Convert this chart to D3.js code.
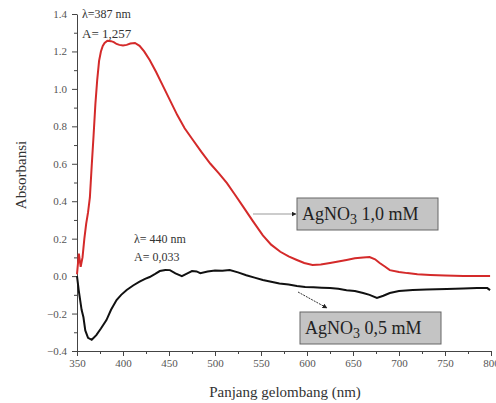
<!DOCTYPE html>
<html>
<head>
<meta charset="utf-8">
<title>Absorbansi AgNO3</title>
<script src="https://d3js.org/d3.v7.min.js"></script>
<style>
body { margin: 0; background: #fff; }
.axis path, .axis line { stroke: #444; }
</style>
</head>
<body>
<svg width="496" height="403"></svg>
<script>
// wavelength (nm) / absorbance
var wl10 = [350, 352, 354, 356, 358, 360, 362, 364, 366, 368, 370, 372, 374, 376, 378, 380, 383, 387, 390, 393, 396, 400, 404, 408, 413, 418, 423, 429, 436, 443, 451, 459, 467, 476, 485, 495, 504, 513, 521, 530, 541, 552, 561, 571, 580, 589, 597, 606, 615, 625, 634, 643, 652, 661, 668, 674, 679, 685, 690, 700, 709, 720, 734, 750, 770, 785, 799];
var abs10 = [0.01, 0.12, 0.05, 0.1, 0.2, 0.28, 0.34, 0.42, 0.59, 0.75, 0.92, 1.05, 1.15, 1.2, 1.23, 1.245, 1.257, 1.255, 1.25, 1.24, 1.235, 1.232, 1.235, 1.242, 1.245, 1.23, 1.2, 1.154, 1.09, 1.02, 0.94, 0.86, 0.79, 0.727, 0.665, 0.6, 0.55, 0.497, 0.44, 0.375, 0.295, 0.218, 0.168, 0.13, 0.105, 0.086, 0.07, 0.06, 0.062, 0.07, 0.078, 0.086, 0.095, 0.1, 0.102, 0.09, 0.07, 0.05, 0.032, 0.022, 0.016, 0.01, 0.006, 0.003, 0.0, 0.0, 0.0];

var wl05 = [350, 352, 355, 357, 359, 362, 366, 371, 376, 382, 387, 393, 398, 404, 411, 418, 424, 429, 435, 440, 446, 451, 457, 464, 470, 475, 480, 484, 492, 500, 508, 516, 525, 534, 543, 552, 561, 570, 580, 589, 598, 607, 616, 625, 634, 643, 652, 661, 668, 676, 683, 690, 700, 715, 730, 752, 770, 785, 796, 799];
var abs05 = [0.0, -0.08, -0.18, -0.22, -0.29, -0.33, -0.34, -0.315, -0.28, -0.235, -0.18, -0.128, -0.1, -0.074, -0.05, -0.03, -0.015, -0.005, 0.012, 0.027, 0.033, 0.032, 0.015, 0.0, 0.015, 0.027, 0.025, 0.016, 0.025, 0.03, 0.028, 0.032, 0.02, 0.005, -0.008, -0.021, -0.03, -0.04, -0.045, -0.053, -0.058, -0.06, -0.062, -0.064, -0.068, -0.075, -0.08, -0.09, -0.1, -0.117, -0.105, -0.09, -0.08, -0.074, -0.072, -0.069, -0.066, -0.064, -0.064, -0.075];

var xTicks = [350, 400, 450, 500, 550, 600, 650, 700, 750, 800];
var yTicks = [-0.4, -0.2, 0.0, 0.2, 0.4, 0.6, 0.8, 1.0, 1.2, 1.4];

var serif = "'Liberation Serif', 'Times New Roman', serif";
var svg = d3.select("svg");

var x = d3.scaleLinear().domain([350, 800]).range([77, 491]);
var y = d3.scaleLinear().domain([-0.4, 1.4]).range([351, 14]);

// minor ticks
svg.append("g")
  .attr("class", "axis")
  .attr("transform", "translate(0,351)")
  .call(d3.axisBottom(x).tickValues(d3.range(375, 800, 50)).tickSize(3).tickFormat(""))
  .select(".domain").remove();
svg.append("g")
  .attr("class", "axis")
  .attr("transform", "translate(77,0)")
  .call(d3.axisLeft(y).tickValues(d3.range(-0.3, 1.4, 0.2)).tickSize(3).tickFormat(""))
  .select(".domain").remove();

svg.append("g")
  .attr("class", "axis")
  .attr("transform", "translate(0,351)")
  .call(d3.axisBottom(x).tickValues(xTicks).tickSize(5).tickSizeOuter(0).tickPadding(3))
  .attr("font-family", serif).attr("font-size", 11)
  .selectAll("text").attr("fill", "#555");

svg.append("g")
  .attr("class", "axis")
  .attr("transform", "translate(77,0)")
  .call(d3.axisLeft(y).tickValues(yTicks).tickSize(5).tickSizeOuter(0).tickPadding(5)
          .tickFormat(d3.format(".1f")))
  .attr("font-family", serif).attr("font-size", 11)
  .selectAll("text").attr("fill", "#555");

var line = d3.line()
  .x(function(d) { return x(d[0]); })
  .y(function(d) { return y(d[1]); });

svg.append("path")
  .datum(d3.zip(wl10, abs10))
  .attr("fill", "none")
  .attr("stroke", "#d42a2a")
  .attr("stroke-width", 2)
  .attr("d", line);

svg.append("path")
  .datum(d3.zip(wl05, abs05))
  .attr("fill", "none")
  .attr("stroke", "#111")
  .attr("stroke-width", 2)
  .attr("d", line);

function label(tx, ty, size, str) {
  return svg.append("text")
    .attr("x", tx).attr("y", ty)
    .attr("font-family", serif)
    .attr("font-size", size)
    .attr("fill", "#333")
    .text(str);
}

// axis titles
label(0, 0, 15, "Absorbansi")
  .attr("transform", "translate(26,175) rotate(-90)")
  .attr("text-anchor", "middle");
label(285, 397, 15, "Panjang gelombang (nm)")
  .attr("text-anchor", "middle");

// peak notes
label(82, 18, 12, "\u03bb=387 nm");
label(82, 38, 13, "A= 1,257");
label(134, 243, 12, "\u03bb= 440 nm");
label(134, 261, 12, "A= 0,033");

// arrow marker
svg.append("defs").append("marker")
  .attr("id", "arr")
  .attr("viewBox", "0 0 10 10")
  .attr("refX", 9).attr("refY", 5)
  .attr("markerWidth", 5).attr("markerHeight", 5)
  .attr("orient", "auto")
  .append("path").attr("d", "M0,0 L10,5 L0,10 z").attr("fill", "#222");

svg.append("line")
  .attr("x1", 253).attr("y1", 214).attr("x2", 296).attr("y2", 214)
  .attr("stroke", "#999").attr("stroke-width", 1)
  .attr("marker-end", "url(#arr)");

svg.append("line")
  .attr("x1", 298).attr("y1", 292).attr("x2", 327).attr("y2", 308)
  .attr("stroke", "#333").attr("stroke-width", 1)
  .attr("stroke-dasharray", "2,1")
  .attr("marker-end", "url(#arr)");

// legend boxes
function box(bx, by, conc) {
  svg.append("rect")
    .attr("x", bx).attr("y", by).attr("width", 141).attr("height", 32)
    .attr("fill", "#c4c4c4").attr("stroke", "#666").attr("stroke-width", 1);
  var t = label(bx + 5, by + 22, 18, null).attr("fill", "#222");
  t.append("tspan").text("AgNO");
  t.append("tspan").attr("dy", 4).attr("font-size", 14).text("3");
  t.append("tspan").attr("dy", -4).text(" " + conc + " mM");
}
box(297, 198, "1,0");
box(300, 312, "0,5");
</script>
</body>
</html>
